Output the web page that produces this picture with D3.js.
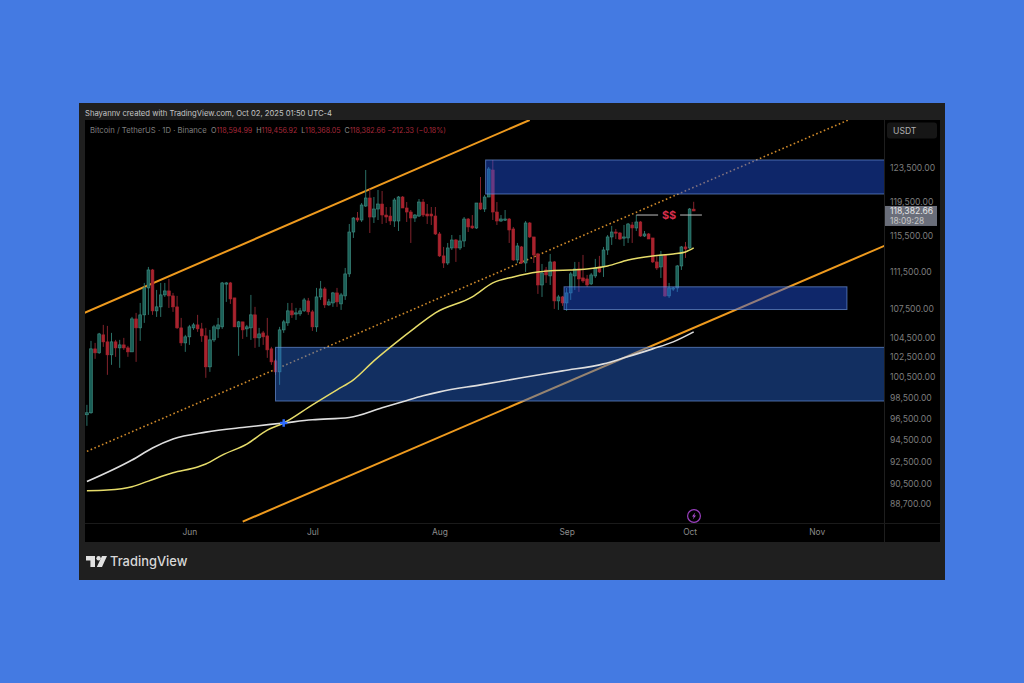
<!DOCTYPE html>
<html><head><meta charset="utf-8">
<script src="https://cdn.jsdelivr.net/npm/d3@7/dist/d3.min.js"></script>
<style>html,body{margin:0;padding:0;background:#447ae2;overflow:hidden}svg{display:block}text{font-family:Inter,Roboto,sans-serif}</style>
</head><body><svg id="c" width="1024" height="683"></svg>
<script>
const firstDay = "2025-05-07";
const opens = [96850,97040,103345,102940,104780,104060,102740,104060,103445,103750,103445,103040,106440,105505,106865,109740,111700,107285,107710,108987,109415,108880,107710,105505,103955,104575,105505,105815,105400,104675,
101530,104264,105400,105610,110170,110280,108665,105610,106130,105400,105505,106865,104470,104985,104675,103345,102130,101030,105295,106025,107285,106970,106970,107285,108345,107180,105610,108770,109630,107920,
108130,109200,108025,108880,111265,115955,117565,117333,118960,119905,117680,118610,119195,117910,117795,117220,117220,120020,118730,118260,117565,117795,119430,118030,118030,117795,115730,113255,112470,114145,
115047,114145,114935,117450,116645,116415,119315,118610,120020,123257,118260,117220,117333,117450,116300,112805,114260,112470,116990,115390,113475,110060,111700,111045,112585,108345,108770,108130,109200,111045,
111810,110825,110715,110170,111045,112030,112030,113920,115390,115955,115840,115275,115275,116760,116415,117105,115500,115730,115275,112585,112030,113365,108880,109630,109740,112140,114260,114145,118594.99];
const highs = [97800,104160,103955,104985,105815,105710,104985,104264,104264,104470,103650,106650,107075,108130,110280,112030,111810,109523,110280,110280,110715,109200,108880,106545,104780,105815,106025,106865,106025,105505,
105295,105815,106545,110388,110388,110388,108665,106230,106130,105815,108987,107710,105505,105190,106545,103550,102335,105610,106336,108130,108130,107600,107600,108665,108665,107390,109740,110497,109845,108557,
109308,109740,109200,111920,116875,117680,118260,119315,123257,120980,120020,120857,120735,118845,118845,119905,120140,120140,119430,118495,118030,119785,119785,119195,118845,118845,115955,114260,114710,115615,
115160,115615,117680,117565,117910,119315,122410,120260,123620,124480,119430,117910,118495,117565,116530,114710,114370,117220,117105,115390,113590,112360,112030,113475,112695,108987,108880,109740,111480,112585,
112585,113365,111155,111370,112920,113255,114260,115615,116645,116300,115955,116760,116990,117105,117910,117220,116070,115840,115275,113365,113810,113475,110280,109845,112250,114370,114820,118730,119456.92];
const lows = [95800,96940,102335,102840,103550,100735,101730,102535,101430,103243,102535,103040,102030,104160,106025,106865,106865,106650,106650,108770,107600,107180,105400,103650,103040,103750,105295,105090,104060,100440,
101030,104060,104470,105400,108240,108025,105610,102640,104365,104575,104264,103445,103550,103750,102435,101730,100735,99745,104985,105710,106545,106336,106760,107180,106865,105190,105090,108450,107600,107815,
107710,107710,107390,108450,110935,115275,117105,117105,118845,115840,116990,117333,116875,116990,116760,116530,116070,118730,117105,114710,117105,117680,117680,116875,116760,115615,113140,111920,112250,113920,
112585,113920,114260,115955,116300,116300,118495,118260,120020,117333,116760,117105,117220,114710,112695,112470,112360,111480,115275,112470,109095,108770,110280,110060,107495,107390,107815,107285,108450,109523,
109308,110280,109845,110060,110825,111370,110935,113365,114485,115160,115047,114370,114710,114710,116070,115390,115390,115160,112470,111700,110825,108770,108665,109415,109308,111700,113030,114035,118368.05];
const closes = [97040,103345,102940,104880,104060,102740,104060,103445,103750,103445,103040,106440,105505,106865,109740,111700,107285,107710,108987,109415,108880,107710,105505,103955,104575,105610,105815,105400,104675,101530,
104264,105610,105815,110280,110280,108557,105610,106130,105295,105610,106865,104470,104880,104575,103243,102030,101030,105295,106130,107285,106865,107075,107285,108450,107180,105610,108770,109630,107920,108240,
109200,108240,108987,111265,115955,117565,117333,119080,119905,117680,118610,119195,117910,117680,117220,119666,120020,118730,118260,117565,117910,119430,117910,117795,117795,115730,113255,112470,114145,115047,
114145,114935,117450,116530,116415,119315,118610,120020,123380,118260,117220,117450,117450,116184,112805,114370,112470,116990,115390,113365,110060,111370,111155,112585,108345,108770,108130,109200,111265,111810,
110715,110497,110060,111155,111920,111480,113920,115390,115955,115840,115160,115390,116875,116415,117105,115500,115730,115160,112585,111920,113365,108880,109740,109740,112140,114260,114035,118610,118382.66];

const maWhiteDates = ["2025-05-07","2025-05-18","2025-05-23","2025-05-28","2025-06-05","2025-06-15","2025-06-24","2025-07-01","2025-07-10","2025-07-18","2025-07-23","2025-07-28","2025-08-01","2025-08-11","2025-08-21","2025-08-31","2025-09-10","2025-09-15","2025-09-22","2025-09-27","2025-10-02"];
const maWhite = [90680,92625,93725,94560,95210,95690,96070,96370,96590,97520,98100,98680,99060,99745,100440,101130,101830,102435,103345,104060,105090];
const maYellowDates = ["2025-05-07","2025-05-12","2025-05-18","2025-05-22","2025-05-28","2025-06-03","2025-06-05","2025-06-09","2025-06-15","2025-06-20","2025-06-24","2025-07-01","2025-07-07","2025-07-11","2025-07-16","2025-07-21","2025-07-26","2025-07-31","2025-08-09","2025-08-14","2025-08-19","2025-08-25","2025-08-29","2025-09-02","2025-09-06","2025-09-11","2025-09-16","2025-09-22","2025-09-27","2025-09-30","2025-10-02"];
const maYellow = [89860,89925,90220,90725,91470,91990,92260,93080,94095,95400,96070,97800,99258,100240,102130,103855,105505,107075,108770,110280,110935,111480,111650,111700,111810,112140,112805,113255,113475,113700,114145];

const trendUpper = {d:["2025-05-06","2025-08-23"], p:[107000,129480]};
const trendLower = {d:["2025-06-14","2025-11-18"], p:[87170,114485]};
const trendMid   = {d:["2025-05-07","2025-11-09"], p:[93420,129545]};

const zoneDates = [["2025-08-12T06:00:00Z","2025-11-25"],["2025-08-31T09:00:00Z","2025-11-08T09:00:00Z"],["2025-06-22","2025-11-25"]];
const zoneTop = [124480,109860,103500];
const zoneBottom = [120377,107430,98170];
const zoneFill = ["#1f54e8","#2256ea","#2868d6"];

const priceTicks = [123500,119500,115500,111500,107500,104500,102500,100500,98500,96500,94500,92500,90500,88700];
const monthTicks = ["2025-06-01","2025-07-01","2025-08-01","2025-09-01","2025-10-01","2025-11-01"];
const monthNames = ["Jun","Jul","Aug","Sep","Oct","Nov"];
const liquidityPrice = 117910;
const liquidityDates = ["2025-09-18","2025-10-04"];
const crossDate = "2025-06-24", crossPrice = 96070;
const lastPrice = 118382.66;
const headerText = "Shayannv created with TradingView.com, Oct 02, 2025 01:50 UTC-4";
const symbolText = "Bitcoin / TetherUS · 1D · Binance";
const ohlcText = [["O","118,594.99"],["H","119,456.92"],["L","118,368.05"],["C","118,382.66 −212.33 (−0.18%)"]];

const parse = d3.isoParse;
const DAY = 864e5;
const svg = d3.select("#c");
const x = d3.scaleUtc().domain([parse("2025-05-08"),parse("2025-11-01")]).range([91,816.7]);
const y = d3.scaleLog().domain([88700,123500]).range([504,168]);
const pane = {l:85,t:120,r:884,b:523};

// frame
svg.append("rect").attr("width",1024).attr("height",683).attr("fill","#447ae2");
svg.append("rect").attr("x",79).attr("y",103).attr("width",866).attr("height",477).attr("fill","#1f1f1f");
svg.append("rect").attr("x",85).attr("y",120).attr("width",855).attr("height",422).attr("fill","#000");
svg.append("line").attr("x1",884.5).attr("x2",884.5).attr("y1",120).attr("y2",542).attr("stroke","#1e1e1e");
svg.append("line").attr("x1",85).attr("x2",940).attr("y1",523.5).attr("y2",523.5).attr("stroke","#1a1a1a");
svg.append("text").attr("x",85).attr("y",115.5).attr("font-size",7.65).attr("fill","#c4c4c4").text(headerText);

const defs = svg.append("defs");
defs.append("clipPath").attr("id","pane").append("rect").attr("x",pane.l).attr("y",pane.t).attr("width",pane.r-pane.l).attr("height",pane.b-pane.t);
const g = svg.append("g").attr("clip-path","url(#pane)");

// trend lines
const line2 = t => { const a=t.d.map((d,i)=>[x(parse(d)),y(t.p[i])]); return d3.line()(a); };
g.append("path").attr("d",line2(trendUpper)).attr("stroke","#ee9a1e").attr("stroke-width",2).attr("fill","none");
g.append("path").attr("d",line2(trendLower)).attr("stroke","#ee9a1e").attr("stroke-width",2).attr("fill","none");
g.append("path").attr("d",line2(trendMid)).attr("stroke","#d08a2a").attr("stroke-width",1.6).attr("stroke-dasharray","1.6 2.5").attr("fill","none");

// candles
const t0 = parse(firstDay);
const candles = opens.map((o,i)=>({t:new Date(+t0+i*DAY),o,h:highs[i],l:lows[i],c:closes[i]}));
const cg = g.append("g").selectAll("g").data(candles).join("g");
cg.append("line").attr("x1",d=>x(d.t)).attr("x2",d=>x(d.t)).attr("y1",d=>y(d.h)).attr("y2",d=>y(d.l))
  .attr("stroke",d=>d.c>=d.o?"#2a6f66":"#82232c").attr("stroke-width",1);
cg.append("rect").attr("x",d=>x(d.t)-1.4).attr("width",2.8)
  .attr("y",d=>Math.min(y(d.o),y(d.c))).attr("height",d=>Math.max(1.2,Math.abs(y(d.o)-y(d.c))))
  .attr("fill",d=>d.c>=d.o?"#1a5f57":"#a8232e").attr("stroke",d=>d.c>=d.o?"#418f84":"#a8232e").attr("stroke-width",.6);

// zones
zoneTop.forEach((p,i)=>{
  g.append("rect").attr("x",x(parse(zoneDates[i][0]))).attr("width",x(parse(zoneDates[i][1]))-x(parse(zoneDates[i][0])))
   .attr("y",y(p)).attr("height",y(zoneBottom[i])-y(p)).attr("fill",zoneFill[i]).attr("fill-opacity",.45)
   .attr("stroke","#6f97e0").attr("stroke-opacity",.65).attr("stroke-width",1);
});

// moving averages
const maLine = (ds,vs)=>d3.line().curve(d3.curveMonotoneX)(ds.map((d,i)=>[x(parse(d)),y(vs[i])]));
g.append("path").attr("d",maLine(maWhiteDates,maWhite)).attr("stroke","#dedede").attr("stroke-width",1.6).attr("fill","none");
g.append("path").attr("d",maLine(maYellowDates,maYellow)).attr("stroke","#e6dc6a").attr("stroke-width",1.5).attr("fill","none");

// cross marker
const cx=x(parse(crossDate)), cy=y(crossPrice);
g.append("path").attr("d",d3.symbol(d3.symbolCross,30)()).attr("transform",`translate(${cx},${cy})`).attr("fill","#2f6bff");

// liquidity
const lx0=x(parse(liquidityDates[0])), lx1=x(parse(liquidityDates[1])), ly=y(liquidityPrice), lm=(lx0+lx1)/2;
g.append("line").attr("x1",lx0).attr("x2",lm-11).attr("y1",ly).attr("y2",ly).attr("stroke","#bdbdbd");
g.append("line").attr("x1",lm+11).attr("x2",lx1).attr("y1",ly).attr("y2",ly).attr("stroke","#bdbdbd");
g.append("text").attr("x",lm).attr("y",ly+4).attr("text-anchor","middle").attr("font-size",11).attr("font-weight",700).attr("fill","#d92f4d").text("$$");

// legend
svg.append("text").attr("x",90).attr("y",133).attr("font-size",7.7).attr("fill","#7f7f7f").text(symbolText);
const leg = svg.append("text").attr("x",211).attr("y",133).attr("font-size",7.1);
ohlcText.forEach(([k,v],i)=>{
  leg.append("tspan").attr("fill","#8a8a8a").attr("dx",i?4:0).text(k);
  leg.append("tspan").attr("fill","#a8283a").text(v);
});

// price axis
const axisY = svg.append("g").attr("transform",`translate(${pane.r},0)`)
  .call(d3.axisRight(y).tickValues(priceTicks).tickSize(0).tickPadding(6).tickFormat(d3.format(",.2f")));
axisY.select(".domain").remove();
axisY.selectAll("text").attr("fill","#7d7d7d").attr("font-size",8.6).attr("font-family","Inter,Roboto,sans-serif");

// time axis
const axisX = svg.append("g").attr("transform",`translate(0,${pane.b})`)
  .call(d3.axisBottom(x).tickValues(monthTicks.map(parse)).tickSize(0).tickPadding(6).tickFormat((d,i)=>monthNames[i]));
axisX.select(".domain").remove();
axisX.selectAll("text").attr("fill","#8c8c8c").attr("font-size",8.4).attr("font-family","Inter,Roboto,sans-serif");

// USDT button
svg.append("rect").attr("x",887).attr("y",122.5).attr("width",50).attr("height",16).attr("rx",3).attr("fill","#161616");
svg.append("text").attr("x",893).attr("y",134).attr("font-size",8.6).attr("fill","#b0b0b0").text("USDT");

// last price label
const lpY = y(lastPrice);
svg.append("rect").attr("x",885).attr("y",lpY-5).attr("width",52).attr("height",20).attr("fill","#6a6e7a");
svg.append("text").attr("x",890).attr("y",lpY+3).attr("font-size",8.6).attr("fill","#e6e6e6").text(d3.format(",.2f")(lastPrice));
svg.append("text").attr("x",890).attr("y",lpY+13).attr("font-size",8.4).attr("fill","#c6c6c6").text("18:09:28");

// event icon
const icon = svg.append("g").attr("transform","translate(694,516)");
icon.append("circle").attr("r",6.4).attr("fill","#000").attr("stroke","#9a3fbf").attr("stroke-width",1.2);
icon.append("path").attr("d","M1.2,-3.6 L-2,0.6 L-0.2,0.6 L-1.2,3.6 L2,-0.6 L0.2,-0.6 Z").attr("fill","#b04fd6");

// footer logo
svg.append("path").attr("d","M86,556 H95 V567 H90.4 V560.5 H86 Z M102,556 H107 L102,567 H96.8 Z").attr("fill","#e2e2e2");
svg.append("circle").attr("cx",98.6).attr("cy",558.2).attr("r",2.2).attr("fill","#e2e2e2");
svg.append("text").attr("x",110).attr("y",566).attr("font-size",12.9).attr("font-weight",500).attr("fill","#d8d8d8").text("TradingView");
</script></body></html>
